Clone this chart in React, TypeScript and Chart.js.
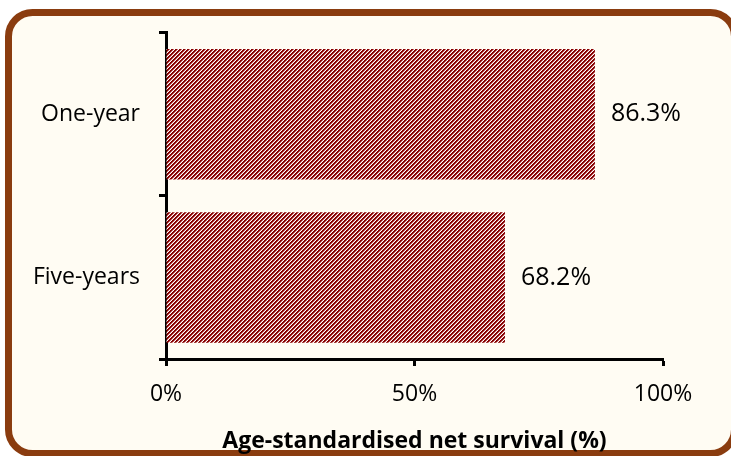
import { useEffect, useRef } from "react";
import { Chart, registerables } from "chart.js";

Chart.register(...registerables);

const categories = ["One-year", "Five-years"];
const survival = [86.3, 68.2];
const xTickValues = [0, 50, 100];
const axisTitle = "Age-standardised net survival (%)";

const FONT = "'Open Sans', 'Noto Sans', sans-serif";

function makePattern(): CanvasPattern | string {
  const c = document.createElement("canvas");
  c.width = 4;
  c.height = 4;
  const g = c.getContext("2d");
  if (!g) return "#8B0000";
  g.fillStyle = "#ffffff";
  g.fillRect(0, 0, 4, 4);
  for (let x = 0; x < 4; x++) {
    for (let y = 0; y < 4; y++) {
      const k = (x + y) % 4;
      if (k === 0 || k === 1) {
        g.fillStyle = "#870000";
        g.fillRect(x, y, 1, 1);
      } else if (k === 2) {
        g.fillStyle = "#C87878";
        g.fillRect(x, y, 1, 1);
      }
    }
  }
  return g.createPattern(c, "repeat") || "#8B0000";
}

const framePlugin = {
  id: "frame",
  beforeDraw(chart: any) {
    const ctx = chart.ctx as CanvasRenderingContext2D;
    ctx.save();
    ctx.fillStyle = "#ffffff";
    ctx.fillRect(0, 0, chart.width, chart.height);
    ctx.beginPath();
    (ctx as any).roundRect(8.5, 12.5, 726, 441, 24);
    ctx.fillStyle = "#FFFCF3";
    ctx.fill();
    ctx.lineWidth = 7;
    ctx.strokeStyle = "#8A3C0F";
    ctx.stroke();
    ctx.restore();
  },
};

const labelPlugin = {
  id: "valueLabels",
  afterDatasetsDraw(chart: any) {
    const ctx = chart.ctx as CanvasRenderingContext2D;
    const meta = chart.getDatasetMeta(0);
    ctx.save();
    ctx.font = `25px ${FONT}`;
    ctx.fillStyle = "#000000";
    ctx.textAlign = "left";
    ctx.textBaseline = "middle";
    meta.data.forEach((bar: any, i: number) => {
      ctx.fillText(survival[i].toFixed(1) + "%", bar.x + 16, bar.y);
    });
    ctx.restore();
  },
};

export default function App() {
  const ref = useRef<HTMLCanvasElement | null>(null);

  useEffect(() => {
    if (!ref.current) return;
    const pattern = makePattern();
    const chart = new Chart(ref.current, {
      type: "bar",
      data: {
        labels: categories,
        datasets: [
          {
            data: survival,
            backgroundColor: pattern as any,
            borderWidth: 0,
            barPercentage: 0.8,
            categoryPercentage: 1,
          },
        ],
      },
      options: {
        indexAxis: "y",
        responsive: false,
        animation: false,
        devicePixelRatio: 1,
        layout: { padding: { top: 29, right: 68, left: 0, bottom: 0 } },
        plugins: {
          legend: { display: false },
          tooltip: { enabled: false },
        },
        scales: {
          y: {
            type: "category",
            offset: true,
            grid: {
              offset: true,
              drawOnChartArea: false,
              tickLength: 7,
              tickWidth: 3,
              tickColor: "#000000",
            },
            border: { width: 3, color: "#000000" },
            ticks: {
              color: "#000000",
              font: { family: FONT, size: 23 },
              padding: 19,
            },
            afterFit: (s: any) => {
              s.width = 166;
            },
          },
          x: {
            type: "linear",
            min: 0,
            max: 100,
            grid: {
              drawOnChartArea: false,
              tickLength: 7,
              tickWidth: 3,
              tickColor: "#000000",
            },
            border: { width: 3, color: "#000000" },
            ticks: {
              color: "#000000",
              font: { family: FONT, size: 23 },
              padding: 15,
              callback: (v: any) => v + "%",
            },
            afterBuildTicks: (s: any) => {
              s.ticks = xTickValues.map((v) => ({ value: v }));
            },
            title: {
              display: true,
              text: axisTitle,
              color: "#000000",
              font: { family: FONT, size: 23, weight: "bold" },
              padding: { top: 0, bottom: 1 },
            },
            afterFit: (s: any) => {
              s.height = 97;
            },
          },
        },
      },
      plugins: [framePlugin, labelPlugin],
    });
    return () => chart.destroy();
  }, []);

  return (
    <canvas
      ref={ref}
      width={731}
      height={456}
      style={{ position: "fixed", left: 0, top: 0, width: 731, height: 456 }}
    />
  );
}
